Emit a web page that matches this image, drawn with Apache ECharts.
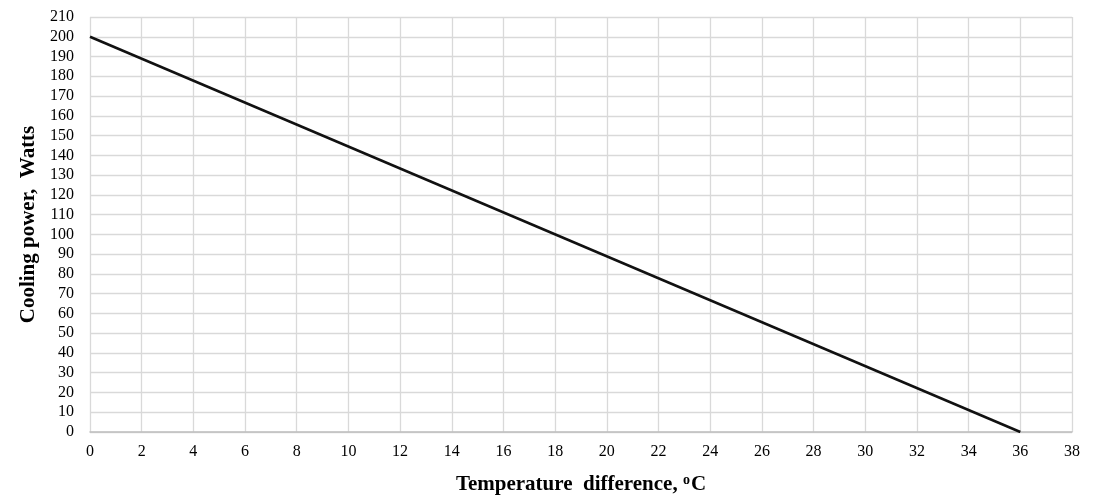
<!DOCTYPE html>
<html>
<head>
<meta charset="utf-8">
<script src="https://cdn.jsdelivr.net/npm/echarts@6/dist/echarts.min.js"></script>
<style>html,body{margin:0;padding:0;background:#fff;}#c{width:1097px;height:496px;}</style>
</head>
<body>
<div id="c"></div>
<script>
const tempDiff = [0, 36];
const coolingPower = [200, 0];
const xTitle = 'Temperature  difference, ';
const yTitle = 'Cooling power,  Watts';

const chart = echarts.init(document.getElementById('c'));
const font = '"Liberation Serif", "Times New Roman", serif';
chart.setOption({
  animation: false,
  grid: {left: 90, right: 25, top: 17, bottom: 64, outerBoundsMode: 'none', containLabel: false},
  xAxis: {
    type: 'value', min: 0, max: 38, interval: 2,
    name: '{t|' + xTitle + '}{s|o}{t|C}',
    nameLocation: 'middle', nameGap: 41,
    nameTextStyle: {rich: {
      t: {fontFamily: font, fontSize: 21, fontWeight: 'bold', color: '#000'},
      s: {fontFamily: font, fontSize: 14, fontWeight: 'bold', color: '#000', verticalAlign: 'top', padding: [0, 1, 9, 0]}
    }},
    axisLine: {show: true, lineStyle: {color: '#bfbfbf', width: 1.5}},
    axisTick: {show: false},
    splitLine: {show: true, lineStyle: {color: '#d9d9d9', width: 1.3}},
    axisLabel: {fontFamily: font, fontSize: 16, color: '#000', margin: 12}
  },
  yAxis: {
    type: 'value', min: 0, max: 210, interval: 10,
    name: yTitle, nameLocation: 'middle', nameGap: 51,
    nameTextStyle: {fontFamily: font, fontSize: 21, fontWeight: 'bold', color: '#000'},
    axisLine: {show: false},
    axisTick: {show: false},
    splitLine: {show: true, lineStyle: {color: '#d9d9d9', width: 1.3}},
    axisLabel: {fontFamily: font, fontSize: 16, color: '#000', margin: 16}
  },
  series: [{
    type: 'line',
    data: tempDiff.map((x, i) => [x, coolingPower[i]]),
    showSymbol: false,
    lineStyle: {color: '#111', width: 2.5}
  }]
});
</script>
</body>
</html>
